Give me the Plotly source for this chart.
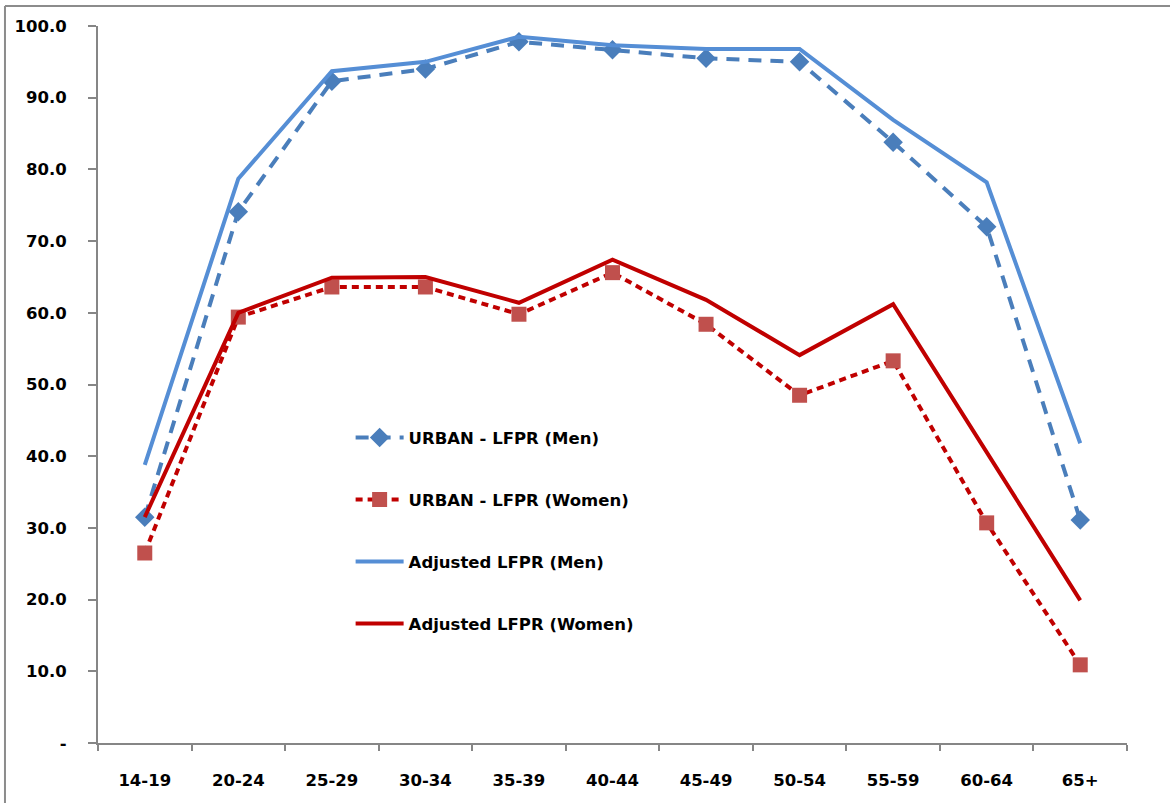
import plotly.graph_objects as go

# Age groups on the x axis
age_groups = ["14-19", "20-24", "25-29", "30-34", "35-39", "40-44",
              "45-49", "50-54", "55-59", "60-64", "65+"]

# Labour force participation rates (%)
urban_men = [31.5, 74.1, 92.3, 94.0, 97.8, 96.7, 95.5, 95.0, 83.8, 72.0, 31.1]
urban_women = [26.5, 59.4, 63.6, 63.6, 59.8, 65.6, 58.4, 48.5, 53.3, 30.7, 10.9]
adjusted_men = [38.8, 78.7, 93.7, 95.0, 98.5, 97.3, 96.8, 96.8, 86.9, 78.2, 41.8]
adjusted_women = [31.5, 60.0, 64.9, 65.0, 61.4, 67.4, 61.8, 54.1, 61.2, 40.5, 19.9]

# Y axis tick labels
y_tick_vals = [0, 10, 20, 30, 40, 50, 60, 70, 80, 90, 100]
y_tick_text = ["-", "10.0", "20.0", "30.0", "40.0", "50.0",
               "60.0", "70.0", "80.0", "90.0", "100.0"]

FONT = "DejaVu Sans"
AXIS_GREY = "#868686"
TEXT_FONT = dict(family=FONT, size=16.5, color="black", weight="bold")

fig = go.Figure()

fig.add_trace(go.Scatter(
    x=age_groups, y=urban_men, name="URBAN - LFPR (Men)",
    mode="lines+markers", legendgroup="g1",
    line=dict(color="#4a7ebb", width=4, dash="13px,9px"),
    marker=dict(symbol="diamond", size=15, color="#4a7ebb"),
))
fig.add_trace(go.Scatter(
    x=age_groups, y=urban_women, name="URBAN - LFPR (Women)",
    mode="lines+markers", legendgroup="g2",
    line=dict(color="#c00000", width=4, dash="7px,5px"),
    marker=dict(symbol="square", size=15, color="#c0504d"),
))
fig.add_trace(go.Scatter(
    x=age_groups, y=adjusted_men, name="Adjusted LFPR (Men)",
    mode="lines", legendgroup="g3",
    line=dict(color="#558ed5", width=4),
))
fig.add_trace(go.Scatter(
    x=age_groups, y=adjusted_women, name="Adjusted LFPR (Women)",
    mode="lines", legendgroup="g4",
    line=dict(color="#c00000", width=4),
))

# Partial frame along the left and top edges of the chart area
fig.add_shape(type="line", xref="paper", yref="paper",
              x0=-0.0904, x1=-0.0904, y0=-0.1, y1=1.0279,
              line=dict(color="#8c8c8c", width=2))
fig.add_shape(type="line", xref="paper", yref="paper",
              x0=-0.0904, x1=1.1, y0=1.0279, y1=1.0279,
              line=dict(color="#8c8c8c", width=2))

fig.update_layout(
    width=1170, height=803,
    margin=dict(l=98, r=43, t=26, b=60),
    paper_bgcolor="white", plot_bgcolor="white",
    font=TEXT_FONT,
    showlegend=True,
    legend=dict(
        x=0.2455, y=0.45, xanchor="left", yanchor="top",
        bgcolor="rgba(0,0,0,0)", tracegroupgap=37.5, itemwidth=48,
        font=TEXT_FONT,
    ),
    xaxis=dict(
        type="category", range=[-0.5, 10.5],
        showline=True, linecolor=AXIS_GREY, linewidth=2,
        ticks="outside", tickson="boundaries", ticklen=6,
        tickcolor=AXIS_GREY, tickwidth=2,
        showgrid=False, zeroline=False,
        ticklabelstandoff=21,
        tickfont=TEXT_FONT,
    ),
    yaxis=dict(
        range=[0, 100], tickvals=y_tick_vals, ticktext=y_tick_text,
        showline=True, linecolor=AXIS_GREY, linewidth=2,
        ticks="outside", ticklen=8, tickcolor=AXIS_GREY, tickwidth=2,
        showgrid=False, zeroline=False,
        ticklabelstandoff=18,
        tickfont=TEXT_FONT,
    ),
)

fig.write_html("out.html")
